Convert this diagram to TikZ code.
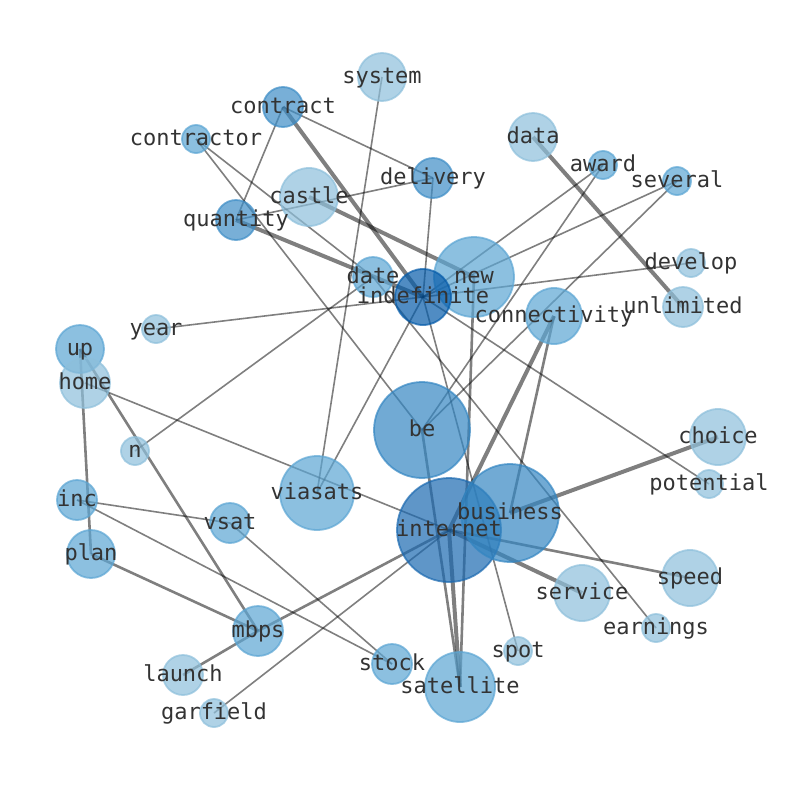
\documentclass[tikz,border=0pt]{standalone}
\usepackage{fontspec}
\setmonofont{DejaVu Sans Mono}
\usetikzlibrary{backgrounds}
\definecolor{cL}{RGB}{141,191,219}
\definecolor{cML}{RGB}{91,165,211}
\definecolor{cM}{RGB}{62,141,198}
\definecolor{cB}{RGB}{52,134,194}
\definecolor{cN}{RGB}{27,105,176}
\definecolor{cI}{RGB}{5,91,169}
\definecolor{cT}{RGB}{51,51,51}
\begin{document}
\begin{tikzpicture}[x=1pt,y=-1pt,
  nd/.style={circle,inner sep=0pt,fill=#1,draw=#1,fill opacity=0.7,draw opacity=0.7,line width=1.8pt},
  lbl/.style={font=\ttfamily\fontsize{22}{26}\selectfont,text=cT,inner sep=0pt,text height=17pt,text depth=5pt},
  ethin/.style={draw=black,draw opacity=0.5,line width=1.6pt},
  emid/.style={draw=black,draw opacity=0.5,line width=2.6pt},
  ethick/.style={draw=black,draw opacity=0.5,line width=4pt}]
\useasboundingbox (0,0) rectangle (794,790);
% nodes
\foreach \nm/\x/\y/\r/\c in {
 system/382/77/24/cL, contract/283/107/20/cM, contractor/196/139/14/cML,
 data/533/137/24/cL, award/603/165/14/cML, several/677/181/14/cML,
 delivery/433/178/20/cM, castle/309/197/29/cL, quantity/236/220/20/cM,
 new/474/277/40/cML, date/373/277/20/cML, indefinite/423/297/28/cI,
 develop/691/263/14/cL, unlimited/683/307/20/cL, connectivity/554/316/28/cML,
 year/156/329/14/cL, up/80/349/24/cML, home/85/383/25/cL,
 be/422/430/48/cB, n/135/451/14/cL, choice/718/437/28/cL,
 potential/709/484/14/cL, inc/77/500/20/cML, viasats/317/493/37/cML,
 vsat/230/523/20/cML, internet/449/530/52/cN, business/510/513/49/cB,
 speed/690/578/28/cL, service/582/593/28/cL, earnings/656/628/14/cL,
 plan/91/554/24/cML, mbps/258/631/25/cML, spot/518/651/14/cL,
 launch/183/675/20/cL, stock/392/664/20/cML, satellite/460/687/35/cML,
 garfield/214/713/14/cL}
 { \node[nd=\c, minimum size=2*\r pt] (\nm) at (\x,\y) {}; }
% edges
\begin{pgfonlayer}{background}
\draw[ethick] (contract.center) -- (indefinite.center);
\draw[ethick] (castle.center) -- (new.center);
\draw[ethick] (quantity.center) -- (indefinite.center);
\draw[ethick] (data.center) -- (unlimited.center);
\draw[ethick] (connectivity.center) -- (internet.center);
\draw[ethick] (business.center) -- (choice.center);
\draw[ethick] (internet.center) -- (service.center);
\draw[ethick] (internet.center) -- (satellite.center);
\draw[emid] (be.center) -- (satellite.center);
\draw[emid] (new.center) -- (satellite.center);
\draw[emid] (connectivity.center) -- (business.center);
\draw[emid] (internet.center) -- (speed.center);
\draw[emid] (up.center) -- (mbps.center);
\draw[emid] (up.center) -- (plan.center);
\draw[emid] (plan.center) -- (mbps.center);
\draw[emid] (launch.center) -- (mbps.center);
\draw[emid] (mbps.center) -- (internet.center);
\draw[ethin] (contract.center) -- (quantity.center);
\draw[ethin] (contract.center) -- (delivery.center);
\draw[ethin] (contractor.center) -- (date.center);
\draw[ethin] (contractor.center) -- (be.center);
\draw[ethin] (quantity.center) -- (delivery.center);
\draw[ethin] (system.center) -- (viasats.center);
\draw[ethin] (delivery.center) -- (indefinite.center);
\draw[ethin] (award.center) -- (indefinite.center);
\draw[ethin] (award.center) -- (be.center);
\draw[ethin] (several.center) -- (indefinite.center);
\draw[ethin] (several.center) -- (be.center);
\draw[ethin] (develop.center) -- (indefinite.center);
\draw[ethin] (indefinite.center) -- (potential.center);
\draw[ethin] (indefinite.center) -- (spot.center);
\draw[ethin] (indefinite.center) -- (viasats.center);
\draw[ethin] (year.center) -- (indefinite.center);
\draw[ethin] (date.center) -- (earnings.center);
\draw[ethin] (n.center) -- (date.center);
\draw[ethin] (home.center) -- (internet.center);
\draw[ethin] (inc.center) -- (vsat.center);
\draw[ethin] (inc.center) -- (stock.center);
\draw[ethin] (vsat.center) -- (stock.center);
\draw[ethin] (garfield.center) -- (internet.center);
\end{pgfonlayer}
% labels
\foreach \nm in {system,contract,contractor,data,award,several,delivery,castle,
 quantity,new,date,indefinite,develop,unlimited,connectivity,year,up,home,be,n,
 choice,potential,inc,viasats,vsat,internet,business,speed,service,earnings,plan,
 mbps,spot,launch,stock,satellite,garfield}
 { \node[lbl] at (\nm.center) {\nm}; }
\end{tikzpicture}
\end{document}
